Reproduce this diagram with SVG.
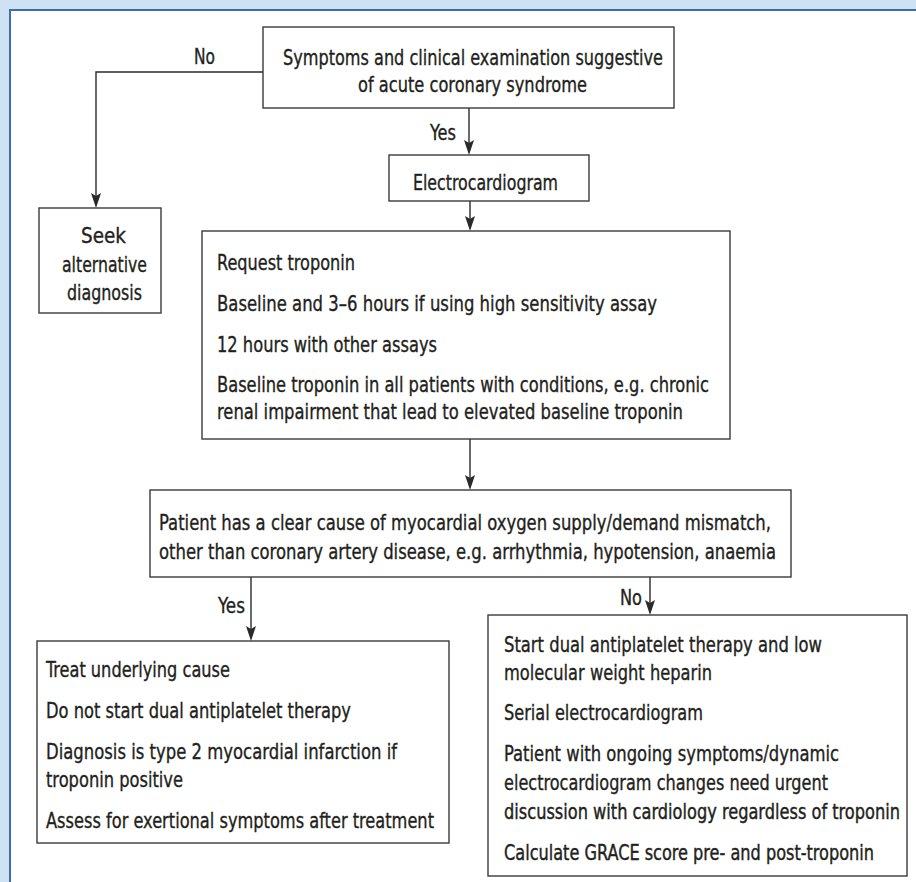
<svg xmlns="http://www.w3.org/2000/svg" width="916" height="882" viewBox="0 0 916 882">
<style>
.box{fill:#fff;stroke:#3a3a3a;stroke-width:1.4}
.t{font-family:"DejaVu Sans Condensed","Liberation Sans Narrow","Liberation Sans",sans-serif;font-size:22px;fill:#231f20;stroke:#231f20;stroke-width:0.35}
.s{font-size:18.5px}
.c{fill:none;stroke:#2a2a2a;stroke-width:1.4}
.ah{fill:#2a2a2a}
</style>
<rect x="0" y="0" width="916" height="882" fill="#cfe2f3"/>
<rect x="9" y="9" width="907" height="873" fill="#fff"/>
<path d="M10,882 V10 H916" fill="none" stroke="#3d6cb3" stroke-width="2"/>

<g id="connectors">
<path class="c" d="M263,72 H96 V196"/>
<path class="ah" d="M91,193 L96,196 L101,193 L96,208 Z"/>
<path class="c" d="M469,108 V143"/>
<path class="ah" d="M464,140 L469,143 L474,140 L469,155 Z"/>
<path class="c" d="M470,201 V219"/>
<path class="ah" d="M465,216 L470,219 L475,216 L470,231 Z"/>
<path class="c" d="M470,439 V478"/>
<path class="ah" d="M465,475 L470,478 L475,475 L470,490 Z"/>
<path class="c" d="M251,577 V629"/>
<path class="ah" d="M246,626 L251,629 L256,626 L251,641 Z"/>
<path class="c" d="M650,577 V603"/>
<path class="ah" d="M645,600 L650,603 L655,600 L650,615 Z"/>
<text class="t" x="194" y="64" textLength="21" lengthAdjust="spacingAndGlyphs">No</text>
<text class="t" x="430" y="140" textLength="26" lengthAdjust="spacingAndGlyphs">Yes</text>
<text class="t" x="218" y="613" textLength="27" lengthAdjust="spacingAndGlyphs">Yes</text>
<text class="t" x="620" y="605" textLength="22" lengthAdjust="spacingAndGlyphs">No</text>
</g>

<g id="n-symptoms">
<rect class="box" x="263" y="27" width="411" height="81"/>
<text class="t" x="283" y="65" textLength="380" lengthAdjust="spacingAndGlyphs">Symptoms and clinical examination suggestive</text>
<text class="t" x="358" y="92" textLength="229" lengthAdjust="spacingAndGlyphs">of acute coronary syndrome</text>
</g>

<g id="n-ecg">
<rect class="box" x="389" y="155" width="200" height="46"/>
<text class="t" x="413" y="190" textLength="145" lengthAdjust="spacingAndGlyphs">Electrocardiogram</text>
</g>

<g id="n-seek">
<rect class="box" x="39" y="208" width="122" height="105"/>
<text class="t" x="81" y="243" textLength="45" lengthAdjust="spacingAndGlyphs">Seek</text>
<text class="t" x="62" y="271.5" textLength="85" lengthAdjust="spacingAndGlyphs">alternative</text>
<text class="t" x="67" y="300" textLength="75" lengthAdjust="spacingAndGlyphs">diagnosis</text>
</g>

<g id="n-troponin">
<rect class="box" x="202" y="231" width="528" height="208"/>
<text class="t" x="217" y="270" textLength="138" lengthAdjust="spacingAndGlyphs">Request troponin</text>
<text class="t" x="217" y="311" textLength="440" lengthAdjust="spacingAndGlyphs">Baseline and 3–6 hours if using high sensitivity assay</text>
<text class="t" x="217" y="352" textLength="220" lengthAdjust="spacingAndGlyphs">12 hours with other assays</text>
<text class="t" x="217" y="392" textLength="492" lengthAdjust="spacingAndGlyphs">Baseline troponin in all patients with conditions, e.g. chronic</text>
<text class="t" x="217" y="419" textLength="466" lengthAdjust="spacingAndGlyphs">renal impairment that lead to elevated baseline troponin</text>
</g>

<g id="n-decision">
<rect class="box" x="150" y="490" width="641" height="87"/>
<text class="t" x="159" y="530" textLength="612" lengthAdjust="spacingAndGlyphs">Patient has a clear cause of myocardial oxygen supply/demand mismatch,</text>
<text class="t" x="159" y="559" textLength="617" lengthAdjust="spacingAndGlyphs">other than coronary artery disease, e.g. arrhythmia, hypotension, anaemia</text>
</g>

<g id="n-yes">
<rect class="box" x="37" y="641" width="412" height="202"/>
<text class="t" x="46" y="677" textLength="184" lengthAdjust="spacingAndGlyphs">Treat underlying cause</text>
<text class="t" x="46" y="717.5" textLength="305" lengthAdjust="spacingAndGlyphs">Do not start dual antiplatelet therapy</text>
<text class="t" x="46" y="758.5" textLength="351" lengthAdjust="spacingAndGlyphs">Diagnosis is type 2 myocardial infarction if</text>
<text class="t" x="46" y="787" textLength="137" lengthAdjust="spacingAndGlyphs">troponin positive</text>
<text class="t" x="46" y="828" textLength="388" lengthAdjust="spacingAndGlyphs">Assess for exertional symptoms after treatment</text>
</g>

<g id="n-no">
<rect class="box" x="488" y="615" width="419" height="261"/>
<text class="t" x="504" y="652" textLength="318" lengthAdjust="spacingAndGlyphs">Start dual antiplatelet therapy and low</text>
<text class="t" x="504" y="680" textLength="208" lengthAdjust="spacingAndGlyphs">molecular weight heparin</text>
<text class="t" x="504" y="720" textLength="199" lengthAdjust="spacingAndGlyphs">Serial electrocardiogram</text>
<text class="t" x="504" y="761" textLength="335" lengthAdjust="spacingAndGlyphs">Patient with ongoing symptoms/dynamic</text>
<text class="t" x="504" y="790" textLength="324" lengthAdjust="spacingAndGlyphs">electrocardiogram changes need urgent</text>
<text class="t s" transform="translate(504,819) scale(1,1.18)" x="0" y="0" textLength="396" lengthAdjust="spacingAndGlyphs">discussion with cardiology regardless of troponin</text>
<text class="t s" transform="translate(504,860) scale(1,1.18)" x="0" y="0" textLength="370" lengthAdjust="spacingAndGlyphs">Calculate GRACE score pre- and post-troponin</text>
</g>
</svg>
